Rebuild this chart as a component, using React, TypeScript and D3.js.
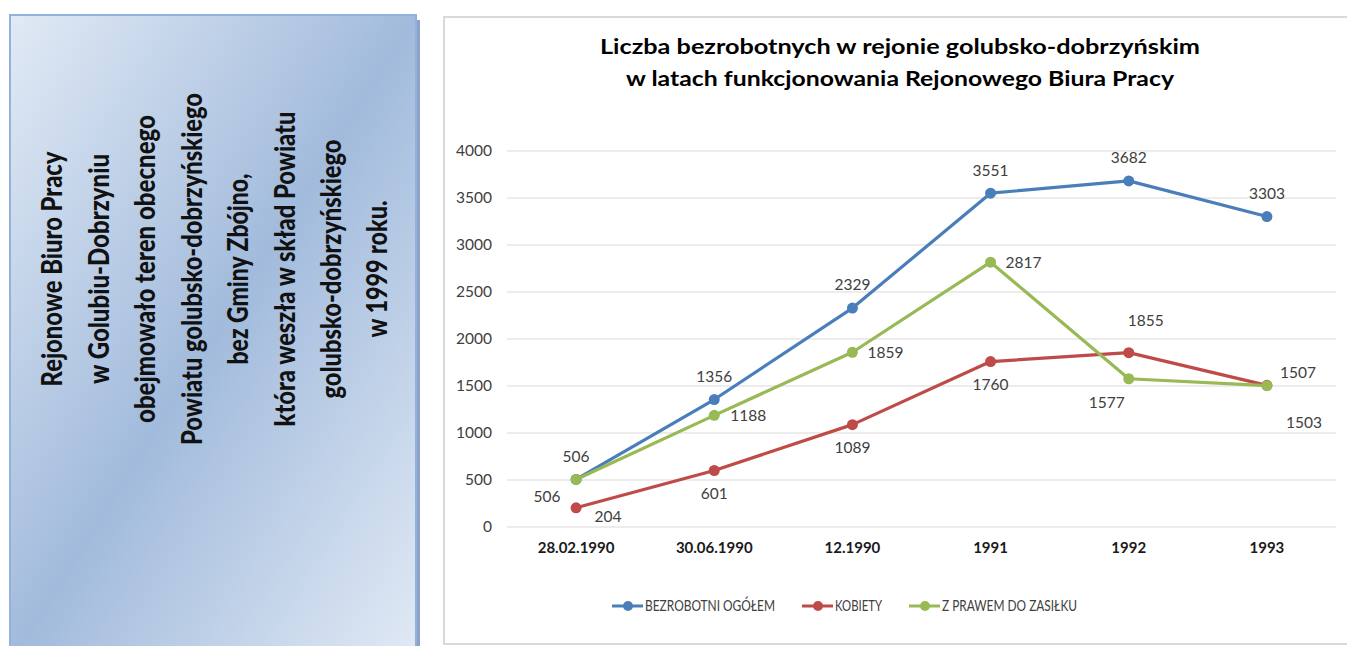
import { useEffect, useRef } from 'react';
import * as d3 from 'd3';

// chart data
const categories = ['28.02.1990', '30.06.1990', '12.1990', '1991', '1992', '1993'];
const ogolem = [506, 1356, 2329, 3551, 3682, 3303];
const kobiety = [204, 601, 1089, 1760, 1855, 1507];
const zasilek = [506, 1188, 1859, 2817, 1577, 1503];
const yTicks = [0, 500, 1000, 1500, 2000, 2500, 3000, 3500, 4000];

const seriesNames = ['BEZROBOTNI OGÓŁEM', 'KOBIETY', 'Z PRAWEM DO ZASIŁKU'];
const seriesColors = ['#4a7ebb', '#be4b48', '#98b954'];

// data label offsets (dx, dy) relative to each point, as placed in the original
const labelOffsets = [
  [[0, -23], [0, -23], [0, -23], [0, -23], [0, -23], [0, -23]],
  [[32, 9], [0, 23], [0, 23], [0, 23], [17, -32], [31, -13]],
  [[-29, 17], [34, 0], [33, 0], [33, 0], [-22, 24], [37, 37]],
];

const titleLines = [
  'Liczba bezrobotnych  w rejonie golubsko-dobrzyńskim',
  'w latach funkcjonowania Rejonowego Biura Pracy',
];

const sideLines = [
  'Rejonowe Biuro Pracy',
  'w  Golubiu-Dobrzyniu',
  'obejmowało teren obecnego',
  'Powiatu golubsko-dobrzyńskiego',
  'bez Gminy Zbójno,',
  'która weszła w skład Powiatu',
  'golubsko-dobrzyńskiego',
  'w 1999 roku.',
];
const sideLengths = [235, 230, 308, 352, 191, 315, 259, 137];

const FONT = "Lato, 'Open Sans', sans-serif";

export default function App() {
  const svgRef = useRef<SVGSVGElement>(null);

  useEffect(() => {
    if (!svgRef.current) return;
    const svg = d3.select(svgRef.current);
    svg.selectAll('*').remove();

    const H = 646;

    // left info panel
    const defs = svg.append('defs');
    const grad = defs.append('linearGradient')
      .attr('id', 'side-grad')
      .attr('x1', 0).attr('y1', 0).attr('x2', 1).attr('y2', 1);
    grad.append('stop').attr('offset', '0%').attr('stop-color', '#e1eaf5');
    grad.append('stop').attr('offset', '50%').attr('stop-color', '#a2bbdc');
    grad.append('stop').attr('offset', '100%').attr('stop-color', '#e1eaf5');

    svg.append('rect')
      .attr('x', 417).attr('y', 20)
      .attr('width', 3).attr('height', H)
      .attr('fill', '#8aa3c6');

    svg.append('rect')
      .attr('x', 10).attr('y', 15)
      .attr('width', 406).attr('height', H)
      .attr('fill', 'url(#side-grad)')
      .attr('stroke', '#93b1da')
      .attr('stroke-width', 2);

    const sideX = d3.scaleLinear().domain([0, sideLines.length - 1]).range([52, 377]);
    svg.append('g')
      .selectAll('text')
      .data(sideLines)
      .join('text')
      .attr('transform', (_, i) => `translate(${sideX(i)},269) rotate(-90)`)
      .attr('text-anchor', 'middle')
      .attr('dy', '0.36em')
      .attr('textLength', (_, i) => sideLengths[i])
      .attr('lengthAdjust', 'spacingAndGlyphs')
      .style('font-family', FONT)
      .style('font-size', '29px')
      .style('font-weight', 900)
      .style('fill', '#111')
      .text(d => d);

    // chart frame
    svg.append('rect')
      .attr('x', 444).attr('y', 17)
      .attr('width', 920).attr('height', 627)
      .attr('fill', '#fff')
      .attr('stroke', '#d9d9d9')
      .attr('stroke-width', 2);

    // title
    svg.append('g')
      .selectAll('text')
      .data(titleLines)
      .join('text')
      .attr('x', 900)
      .attr('y', (_, i) => 54 + i * 32)
      .attr('text-anchor', 'middle')
      .attr('textLength', (_, i) => (i === 0 ? 600 : 548))
      .attr('lengthAdjust', 'spacingAndGlyphs')
      .style('font-family', FONT)
      .style('font-size', '21px')
      .style('font-weight', 700)
      .style('fill', '#000')
      .text(d => d);

    const x = d3.scalePoint<string>()
      .domain(categories)
      .range([507, 1336])
      .padding(0.5);

    const y = d3.scaleLinear()
      .domain([0, 4000])
      .range([527, 151]);

    // gridlines
    svg.append('g')
      .selectAll('line')
      .data(yTicks)
      .join('line')
      .attr('x1', 507).attr('x2', 1336)
      .attr('y1', d => y(d)).attr('y2', d => y(d))
      .attr('stroke', '#d9d9d9')
      .attr('stroke-width', 1);

    // y tick labels
    svg.append('g')
      .selectAll('text')
      .data(yTicks)
      .join('text')
      .attr('x', 492)
      .attr('y', d => y(d))
      .attr('dy', '0.35em')
      .attr('text-anchor', 'end')
      .style('font-family', FONT)
      .style('font-size', '15.5px')
      .style('fill', '#404040')
      .text(d => d);

    // x labels
    svg.append('g')
      .selectAll('text')
      .data(categories)
      .join('text')
      .attr('x', d => x(d) || 0)
      .attr('y', 548)
      .attr('dy', '0.35em')
      .attr('text-anchor', 'middle')
      .style('font-family', FONT)
      .style('font-size', '15px')
      .style('font-weight', 700)
      .style('fill', '#1a1a1a')
      .text(d => d);

    const series = [ogolem, kobiety, zasilek];
    const line = d3.line<number>()
      .x((_, i) => x(categories[i]) || 0)
      .y(d => y(d));

    series.forEach((values, s) => {
      const g = svg.append('g');
      g.append('path')
        .datum(values)
        .attr('d', line)
        .attr('fill', 'none')
        .attr('stroke', seriesColors[s])
        .attr('stroke-width', 3.2)
        .attr('stroke-linejoin', 'round')
        .attr('stroke-linecap', 'round');
      g.selectAll('circle')
        .data(values)
        .join('circle')
        .attr('cx', (_, i) => x(categories[i]) || 0)
        .attr('cy', d => y(d))
        .attr('r', 5.5)
        .attr('fill', seriesColors[s]);
    });

    // data labels
    series.forEach((values, s) => {
      svg.append('g')
        .selectAll('text')
        .data(values)
        .join('text')
        .attr('x', (_, i) => (x(categories[i]) || 0) + labelOffsets[s][i][0])
        .attr('y', (d, i) => y(d) + labelOffsets[s][i][1])
        .attr('dy', '0.35em')
        .attr('text-anchor', 'middle')
        .style('font-family', FONT)
        .style('font-size', '15.5px')
        .style('fill', '#404040')
        .text(d => d);
    });

    // legend
    const legendW = [130, 47, 135];
    let lx = 612;
    seriesNames.forEach((name, s) => {
      const g = svg.append('g').attr('transform', `translate(${lx},606)`);
      g.append('line')
        .attr('x1', 0).attr('x2', 31)
        .attr('stroke', seriesColors[s])
        .attr('stroke-width', 3);
      g.append('circle')
        .attr('cx', 16).attr('r', 5)
        .attr('fill', seriesColors[s]);
      g.append('text')
        .attr('x', 33)
        .attr('dy', '0.36em')
        .attr('textLength', legendW[s])
        .attr('lengthAdjust', 'spacingAndGlyphs')
        .style('font-family', FONT)
        .style('font-size', '15px')
        .style('fill', '#404040')
        .text(name);
      lx += 33 + legendW[s] + 27;
    });
  }, []);

  return (
    <svg
      ref={svgRef}
      width={1347}
      height={646}
      style={{ position: 'absolute', left: 0, top: 0, display: 'block', background: '#fff' }}
    />
  );
}
